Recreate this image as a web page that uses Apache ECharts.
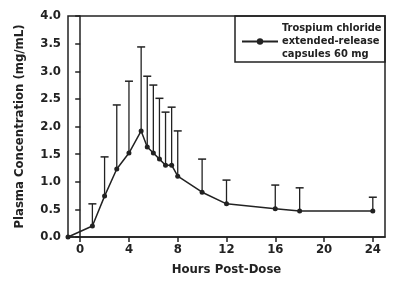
<!DOCTYPE html>
<html><head><meta charset="utf-8">
<script src="https://cdn.jsdelivr.net/npm/echarts@6/dist/echarts.min.js"></script>
<style>html,body{margin:0;padding:0;background:#fff}#c{width:400px;height:287px}</style>
</head><body><div id="c"></div>
<script>
const hours = [-1, 1, 2, 3, 4, 5, 5.5, 6, 6.5, 7, 7.5, 8, 10, 12, 16, 18, 24];
const meanConc = [0, 0.2, 0.74, 1.23, 1.52, 1.92, 1.63, 1.52, 1.41, 1.30, 1.30, 1.10, 0.81, 0.60, 0.51, 0.47, 0.47];
const upperConc = [null, 0.6, 1.45, 2.39, 2.82, 3.44, 2.91, 2.75, 2.51, 2.26, 2.35, 1.92, 1.41, 1.03, 0.94, 0.89, 0.72];
const xTicks = [0, 4, 8, 12, 16, 20, 24];
const seriesName = 'Trospium chloride\nextended-release\ncapsules 60 mg';
const FONT = '"Liberation Sans Narrow", "DejaVu Sans Condensed", "Roboto Condensed", sans-serif';
const INK = '#222';

const chart = echarts.init(document.getElementById('c'), null, {renderer: 'canvas'});
const lineData = hours.map((h, i) => [h, meanConc[i]]);
const errData = [];
hours.forEach((h, i) => { if (upperConc[i] != null) errData.push([h, meanConc[i], upperConc[i]]); });

chart.setOption({
  animation: false,
  grid: {left: 68, right: 15, top: 16, bottom: 50, show: true, borderColor: INK, borderWidth: 1.5, backgroundColor: 'transparent'},
  xAxis: {
    type: 'value', min: -1, max: 25,
    name: 'Hours Post-Dose', nameLocation: 'middle', nameGap: 26,
    nameTextStyle: {fontFamily: FONT, fontWeight: 'bold', fontSize: 13, color: INK},
    axisLine: {show: true, onZero: false, lineStyle: {color: INK, width: 1.5}},
    axisTick: {show: true, length: 5, customValues: xTicks, lineStyle: {color: INK, width: 1.5}},
    axisLabel: {customValues: xTicks, fontFamily: FONT, fontWeight: 'bold', fontSize: 13, color: INK, margin: 6},
    splitLine: {show: false}
  },
  yAxis: {
    type: 'value', min: 0, max: 4, interval: 0.5,
    name: 'Plasma Concentration (mg/mL)', nameLocation: 'middle', nameGap: 42,
    nameTextStyle: {fontFamily: FONT, fontWeight: 'bold', fontSize: 13, color: INK},
    axisLine: {show: true, lineStyle: {color: INK, width: 1.5}},
    axisTick: {show: true, length: 5, lineStyle: {color: INK, width: 1.5}},
    axisLabel: {formatter: v => v.toFixed(1), fontFamily: FONT, fontWeight: 'bold', fontSize: 13, color: INK, margin: 7},
    splitLine: {show: false}
  },
  legend: {
    left: 236, top: 17, itemWidth: 36, itemHeight: 8, itemGap: 0,
    textStyle: {fontFamily: FONT, fontWeight: 'bold', fontSize: 11, lineHeight: 13, color: INK, padding: [0, 0, 0, -1]},
    data: [seriesName]
  },
  graphic: [{type: 'rect', shape: {x: 235, y: 16, width: 150, height: 46}, style: {fill: 'none', stroke: INK, lineWidth: 1.5}, z: 10}],
  series: [
    {
      type: 'custom', name: 'err', data: errData, silent: true, z: 1,
      renderItem: (params, api) => {
        const x = api.value(0);
        const p0 = api.coord([x, api.value(1)]);
        const p1 = api.coord([x, api.value(2)]);
        const cap = 4;
        return {type: 'group', children: [
          {type: 'line', shape: {x1: p0[0], y1: p0[1], x2: p1[0], y2: p1[1]}, style: {stroke: INK, lineWidth: 1.3}},
          {type: 'line', shape: {x1: p1[0] - cap, y1: p1[1], x2: p1[0] + cap, y2: p1[1]}, style: {stroke: INK, lineWidth: 1.5}}
        ]};
      }
    },
    {
      type: 'line', name: seriesName, data: lineData, z: 3,
      symbol: 'circle', symbolSize: 5, showAllSymbol: true,
      lineStyle: {color: INK, width: 1.5}, itemStyle: {color: INK}
    }
  ]
});
</script></body></html>
